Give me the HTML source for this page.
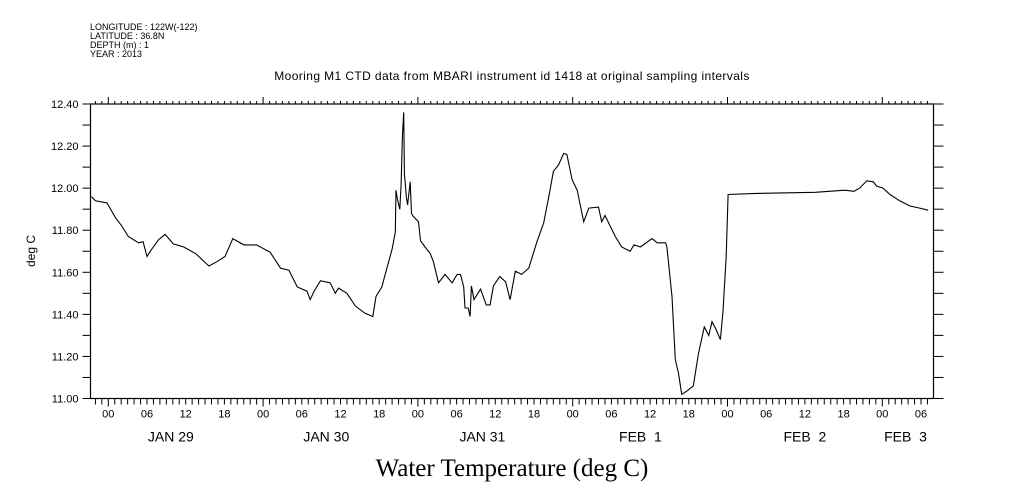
<!DOCTYPE html>
<html><head><meta charset="utf-8"><style>
html,body{margin:0;padding:0;background:#fff;}
svg{display:block;}
text{font-family:"Liberation Sans",sans-serif;fill:#000;}
</style></head><body>
<svg id="chart" width="1009" height="504" viewBox="0 0 1009 504" xmlns="http://www.w3.org/2000/svg">
<g font-size="9">
<text x="90" y="30">LONGITUDE : 122W(-122)</text>
<text x="90" y="39">LATITUDE : 36.8N</text>
<text x="90" y="48">DEPTH (m) : 1</text>
<text x="90" y="57">YEAR : 2013</text>
</g>
<text x="512" y="80" font-size="12" text-anchor="middle" letter-spacing="0.4">Mooring M1 CTD data from MBARI instrument id 1418 at original sampling intervals</text>
<text transform="translate(35,251) rotate(-90)" font-size="12" text-anchor="middle">deg C</text>
<text x="512" y="476" font-size="25" text-anchor="middle" style="font-family:'Liberation Serif',serif">Water Temperature (deg C)</text>
<g id="axes"></g>
<g id="series"></g>
</svg>
<script>
const yTicks = [11.0, 11.2, 11.4, 11.6, 11.8, 12.0, 12.2, 12.4];
const dayLabels = ["JAN 29", "JAN 30", "JAN 31", "FEB  1", "FEB  2", "FEB  3"];
const dayLabelHours = [9.7, 33.8, 58, 82.5, 108, 123.6];
const hourLabels = ["00", "06", "12", "18"];
// hours since Jan 29 00:00
const hours = [-2.6,-2,-0.2,1.1,2.1,3.1,4.7,5.4,6.0,6.5,7.8,8.8,10.1,11.7,13.5,15.6,16.8,18.1,19.3,21,23,25.1,26.7,28,29.3,30.8,31.3,31.9,32.9,34.4,35.2,35.7,37,38.3,39.8,41,41.5,42.4,43.2,44,44.5,44.6,44.8,45.2,45.4,45.6,45.8,45.9,46.2,46.4,46.8,47,47.3,48.1,48.4,49.1,49.9,50.4,51.2,52.2,53.3,54.1,54.6,55.1,55.3,55.8,56.1,56.3,56.7,57.7,58.6,59.2,59.7,60.7,61.6,62.3,63.1,64.1,65.2,66.4,67.5,68.3,69,69.8,70.6,71.1,71.9,72.7,73.7,74.5,76,76.5,77,78.6,79.6,80.9,81.5,82.5,84.3,85.1,86.4,86.6,87.4,87.9,88.4,88.9,89.7,90.7,91.5,92.4,93.1,93.6,94.2,94.9,95.3,95.8,96.1,100.4,109.6,114.2,115.6,116.5,117.6,118.6,119.1,120.1,121.2,122.7,124.3,125.8,127.1];
const temps = [11.96,11.94,11.93,11.86,11.82,11.77,11.74,11.745,11.675,11.70,11.755,11.78,11.735,11.72,11.69,11.63,11.65,11.675,11.76,11.73,11.73,11.695,11.62,11.61,11.53,11.51,11.47,11.51,11.56,11.55,11.50,11.525,11.50,11.44,11.405,11.39,11.485,11.53,11.62,11.71,11.79,11.99,11.95,11.90,12.015,12.245,12.36,12.07,11.96,11.92,12.03,11.88,11.865,11.84,11.75,11.72,11.69,11.65,11.55,11.59,11.55,11.59,11.59,11.53,11.43,11.43,11.39,11.535,11.47,11.52,11.445,11.445,11.535,11.58,11.555,11.47,11.605,11.59,11.62,11.74,11.835,11.96,12.08,12.11,12.165,12.16,12.04,11.99,11.84,11.905,11.91,11.84,11.87,11.77,11.72,11.70,11.73,11.72,11.76,11.74,11.74,11.72,11.485,11.185,11.12,11.02,11.035,11.06,11.215,11.34,11.30,11.365,11.33,11.28,11.415,11.675,11.97,11.975,11.98,11.99,11.985,12.0,12.035,12.03,12.01,12.0,11.97,11.94,11.915,11.905,11.895];

const L=90.5,R=933.5,T=104,B=398.5;
const X0=108.3, PXH=6.45;
const yMin=11.0,yMax=12.4;
const xScale=h=>X0+h*PXH;
const yScale=v=>B-(v-yMin)/(yMax-yMin)*(B-T);
const NS="http://www.w3.org/2000/svg";
const axes=document.getElementById('axes');
function mk(tag,attrs,parent){const e=document.createElementNS(NS,tag);for(const k in attrs)e.setAttribute(k,attrs[k]);parent.appendChild(e);return e;}
const frame=mk('rect',{x:L,y:T,width:R-L,height:B-T,fill:'none',stroke:'#000','stroke-width':1.2},axes);


for(let i=0;i<=14;i++){
  const v=yMin+i*0.1,y=yScale(v);
  const t1=mk('line',{x1:L-8,x2:L,y1:y,y2:y,stroke:'#000'},axes);
  
  
  const t2=mk('line',{x1:R,x2:R+10,y1:y,y2:y,stroke:'#000'},axes);
  
  
}
yTicks.forEach(v=>{
  const t=mk('text',{x:L-12,y:yScale(v)+4,'font-size':11,'text-anchor':'end'},axes);
  t.textContent=v.toFixed(2);
  
  
});
for(let h=-2;h<=127;h++){
  const x=xScale(h);
  const day=(h%24===0), six=(h%6===0);
  const bt=mk('line',{x1:x,x2:x,y1:B,y2:B+(day?8:6),stroke:'#000'},axes);
  
  
  const tt=mk('line',{x1:x,x2:x,y1:T,y2:T-(day?7:3),stroke:'#000'},axes);
  
  
  if(six){
    const lab=mk('text',{x:x,y:B+19,'font-size':11,'text-anchor':'middle'},axes);
    lab.textContent=hourLabels[((h/6)%4+4)%4];
    
    
  }
}
dayLabels.forEach((d,i)=>{
  const t=mk('text',{x:xScale(dayLabelHours[i]),y:B+43,'font-size':14,'text-anchor':'middle'},axes);
  t.textContent=d;
  t.style.whiteSpace='pre';
  
  
});
const pts=hours.map((h,i)=>xScale(h).toFixed(1)+','+yScale(temps[i]).toFixed(1)).join(' ');
const line=mk('polyline',{points:pts,fill:'none',stroke:'#000','stroke-width':1.1},document.getElementById('series'));


</script>
</body></html>
